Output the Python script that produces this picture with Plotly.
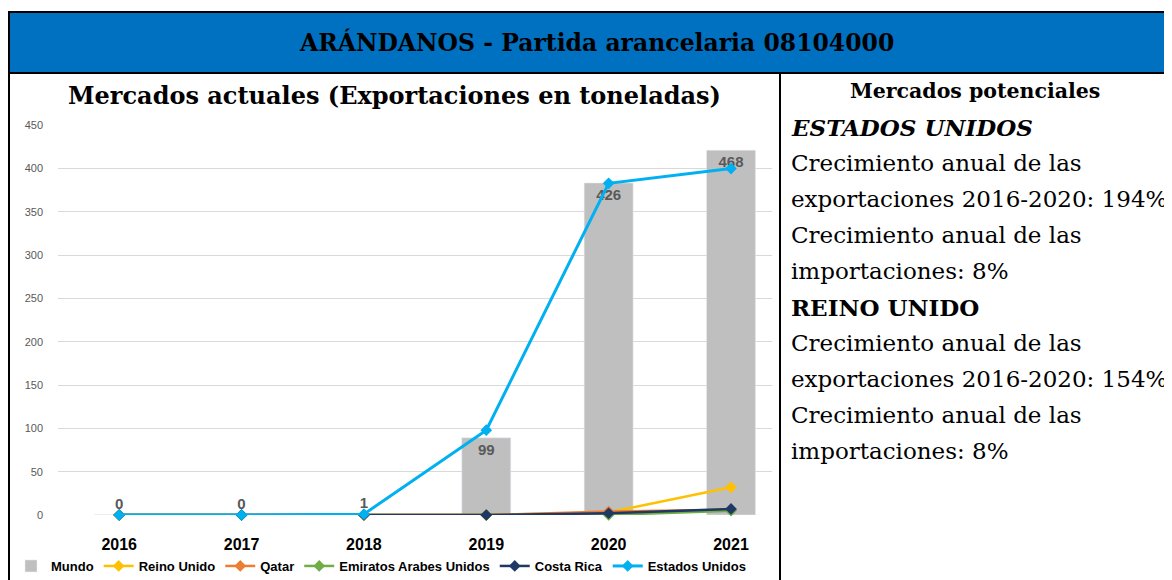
"""Arándanos: mercados actuales (bar + lines) and mercados potenciales text panel."""

import plotly.graph_objects as go

W, H = 1172, 580
# the page body keeps its default 8px margin, so the figure sits 8px in
OFFSET = 8

years = ["2016", "2017", "2018", "2019", "2020", "2021"]
mundo = [0.3, 0.2, 1.2, 99, 426, 468]
reino_unido = [0, 0, 0, 0, 3, 32]
qatar = [0, 0, 0, 0, 4, 6]
emiratos = [0, 0, 0, 0, 0, 5]
costa_rica = [0, 0, 0, 0, 2, 7]
estados_unidos = [0, 0, 1, 98, 383, 400]

header = "ARÁNDANOS - Partida arancelaria 08104000"
chart_title = "Mercados actuales (Exportaciones en toneladas)"
panel_title = "Mercados potenciales"
panel_lines = [
    ("<b><i>ESTADOS UNIDOS</i></b>", 127),
    ("Crecimiento anual de las", 163),
    ("exportaciones 2016-2020: 194%", 199),
    ("Crecimiento anual de las", 235),
    ("importaciones: 8%", 271),
    ("<b>REINO UNIDO</b>", 307),
    ("Crecimiento anual de las", 343),
    ("exportaciones 2016-2020: 154%", 379),
    ("Crecimiento anual de las", 415),
    ("importaciones: 8%", 451),
]

line_series = [
    ("Reino Unido", reino_unido, "#FFC000", 2.5),
    ("Qatar", qatar, "#ED7D31", 2.5),
    ("Emiratos Arabes Unidos", emiratos, "#70AD47", 2.5),
    ("Costa Rica", costa_rica, "#1F3864", 2.5),
    ("Estados Unidos", estados_unidos, "#00B0F0", 3),
]

SERIF = "DejaVu Serif"
SANS = "Liberation Sans"


def px(x):
    return (x - OFFSET) / W


def py(y):
    return 1 - (y - OFFSET) / H


fig = go.Figure()

fig.add_trace(
    go.Bar(
        x=years,
        y=mundo,
        name="Mundo",
        marker_color="#BFBFBF",
        width=0.4,
        texttemplate="%{y:.0f}",
        textposition="auto",
        textfont={"family": SANS, "size": 15, "color": "#595959", "weight": "bold"},
        insidetextanchor="end",
        cliponaxis=False,
        yaxis="y",
    )
)

for name, values, color, width in line_series:
    fig.add_trace(
        go.Scatter(
            x=years,
            y=values,
            name=name,
            mode="lines+markers",
            line={"color": color, "width": width},
            marker={"symbol": "diamond", "size": 9, "color": color},
            yaxis="y2",
            cliponaxis=False,
        )
    )


def label(text, x, y, size, anchor="center"):
    return dict(
        text=text, x=px(x), y=py(y), xref="paper", yref="paper",
        xanchor=anchor, yanchor="middle", showarrow=False,
        font={"family": SERIF, "size": size, "color": "black"},
    )


annotations = [
    label(f"<b>{header}</b>", 596, 43, 23.5),
    label(f"<b>{chart_title}</b>", 394, 95, 24),
    label(f"<b>{panel_title}</b>", 975, 91, 20.5),
]
for text, ypix in panel_lines:
    annotations.append(label(text, 789, ypix, 23, anchor="left"))

shapes = [
    dict(type="rect", xref="paper", yref="paper", x0=px(9), x1=px(1185),
         y0=py(73), y1=py(12), fillcolor="#0070C0", line={"color": "black", "width": 2},
         layer="below"),
    dict(type="line", xref="paper", yref="paper", x0=px(9), x1=px(9),
         y0=py(73), y1=py(600), line={"color": "black", "width": 2}),
    dict(type="line", xref="paper", yref="paper", x0=px(780), x1=px(780),
         y0=py(73), y1=py(600), line={"color": "black", "width": 2}),
]

fig.update_layout(
    width=W,
    height=H,
    margin={"l": 0, "r": 0, "t": 0, "b": 0, "autoexpand": False},
    paper_bgcolor="white",
    plot_bgcolor="rgba(0,0,0,0)",
    barmode="overlay",
    showlegend=True,
    legend={
        "orientation": "h",
        "x": px(11),
        "xanchor": "left",
        "y": py(566),
        "yanchor": "middle",
        "font": {"family": SANS, "size": 13, "color": "black", "weight": "bold"},
        "itemwidth": 30,
        "tracegroupgap": 0,
        "bgcolor": "rgba(0,0,0,0)",
    },
    xaxis={
        "domain": [px(58), px(772)],
        "type": "category",
        "range": [-0.5, 5.335],
        "automargin": False,
        "showgrid": False,
        "showline": False,
        "ticks": "",
        "tickfont": {"family": SANS, "size": 16, "color": "black", "weight": "bold"},
        "ticklabelstandoff": 18,
    },
    yaxis={
        "domain": [py(515), py(125.3)],
        "range": [0, 500],
        "automargin": False,
        "visible": False,
        "showgrid": False,
        "zeroline": False,
    },
    yaxis2={
        "overlaying": "y",
        "side": "left",
        "range": [0, 450],
        "dtick": 50,
        "automargin": False,
        "showgrid": True,
        "gridcolor": "#D9D9D9",
        "gridwidth": 1,
        "zeroline": False,
        "showline": False,
        "ticks": "",
        "tickfont": {"family": SANS, "size": 11, "color": "#595959"},
        "ticklabelstandoff": 14,
    },
    annotations=annotations,
    shapes=shapes,
)

fig.write_html("out.html")
